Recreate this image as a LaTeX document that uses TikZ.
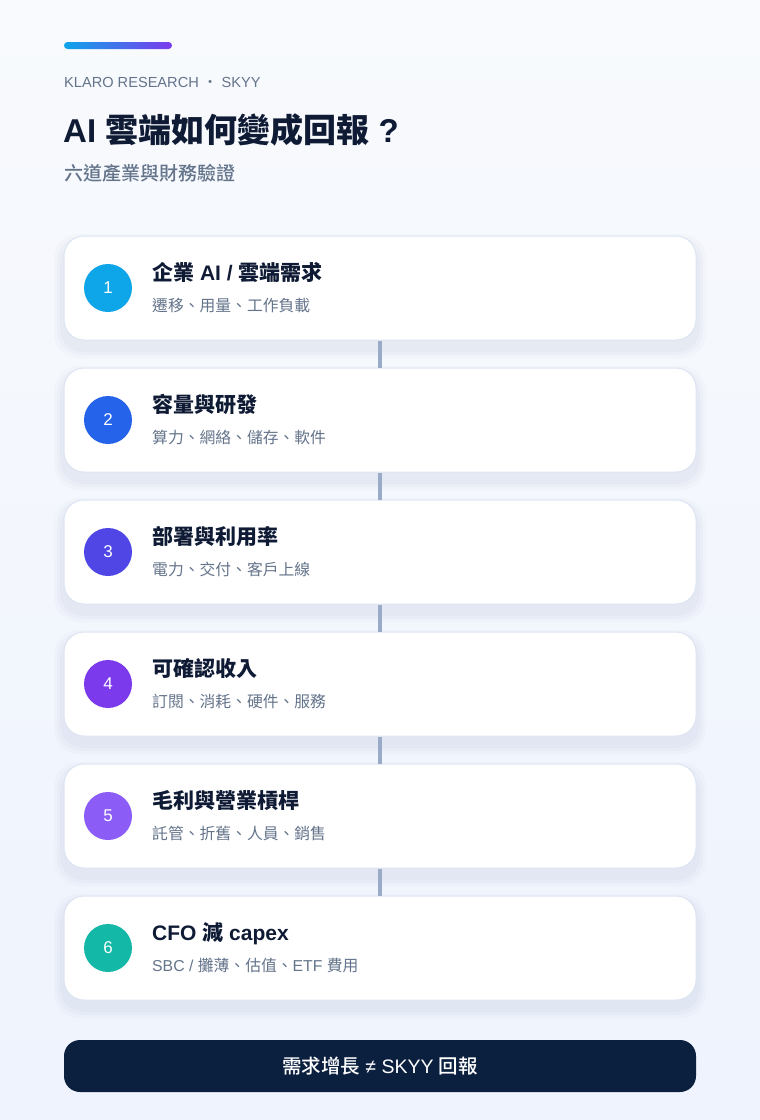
\documentclass[tikz,border=0pt]{standalone}
\usepackage{fontspec}
\setmainfont{Noto Sans CJK TC}
\newfontfamily\medfont{Noto Sans CJK TC Medium}
\newfontfamily\lat{Liberation Sans}
\usetikzlibrary{positioning}
\definecolor{bgA}{HTML}{F8FAFD}
\definecolor{bgB}{HTML}{EEF3FD}
\definecolor{ink}{HTML}{0F1B35}
\definecolor{muted}{HTML}{64748B}
\definecolor{line}{HTML}{9AABC8}
\definecolor{cardedge}{HTML}{DCE4F2}
\definecolor{navy}{HTML}{0B1F3F}
\definecolor{cA}{HTML}{0EA5E9}
\definecolor{cB}{HTML}{2563EB}
\definecolor{cC}{HTML}{4F46E5}
\definecolor{cD}{HTML}{7C3AED}
\definecolor{cE}{HTML}{8B5CF6}
\definecolor{cF}{HTML}{14B8A6}
\definecolor{shadowc}{HTML}{5A6E9E}
\tikzset{
  card/.style={draw=cardedge, line width=1pt, fill=white, rounded corners=20pt, minimum width=632pt, minimum height=104pt, inner sep=0pt},
  badge/.style={circle, minimum size=48pt, inner sep=0pt, text=white, font=\lat\fontsize{17}{20}\selectfont},
  ctitle/.style={anchor=base west, text=ink, inner sep=0pt, font=\fontsize{21}{25}\selectfont\bfseries},
  csub/.style={anchor=base west, text=muted, inner sep=0pt, font=\fontsize{15.8}{19}\selectfont},
  link/.style={line, line width=3.5pt},
}
\begin{document}
\begin{tikzpicture}[x=1pt,y=-1pt]
\useasboundingbox (0,0) rectangle (760,1120);
\shade[top color=bgA, bottom color=bgB] (0,0) rectangle (760,1120);
% top gradient bar
\shade[left color=cA, right color=cD, rounded corners=3.5pt] (64,42) rectangle (172,49);
\node[anchor=base west, inner sep=0pt, text=muted, font=\fontsize{14.6}{17}\selectfont] (brand) at (64,87) {{\lat KLARO RESEARCH }·{\lat\ SKYY}};
\node[anchor=base west, inner sep=0pt, text=ink, font=\fontsize{33}{38}\selectfont\bfseries] (title) at (63,142) {{\lat AI }雲端如何變成回報{\lat\ ?}};
\node[anchor=base west, inner sep=0pt, text=muted, font=\medfont\fontsize{19}{22}\selectfont] (subtitle) at (64,180) {六道產業與財務驗證};
% cards
\foreach \i/\c/\t/\s in {
  1/cA/{企業{\lat\ AI / }雲端需求}/{遷移、用量、工作負載},
  2/cB/{容量與研發}/{算力、網絡、儲存、軟件},
  3/cC/{部署與利用率}/{電力、交付、客戶上線},
  4/cD/{可確認收入}/{訂閱、消耗、硬件、服務},
  5/cE/{毛利與營業槓桿}/{託管、折舊、人員、銷售},
  6/cF/{{\lat CFO }減{\lat\ capex}}/{{\lat SBC / }攤薄、估值、{\lat ETF }費用}}{
  \pgfmathsetmacro{\yc}{288+132*(\i-1)}
  \foreach \k/\o in {10/0.025,7/0.03,4/0.035}{
    \fill[shadowc, opacity=\o, rounded corners=24pt] (64-\k,\yc-52-\k+8) rectangle (696+\k,\yc+52+\k+8);
  }
  \node[card] (card\i) at (380,\yc) {};
  \node[badge, fill=\c] (badge\i) at (108,\yc) {\i};
  \node[ctitle] (title\i) at (152,\yc-8) {\t};
  \node[csub] (sub\i) at (152,\yc+23) {\s};
}
\foreach \a/\b in {1/2,2/3,3/4,4/5,5/6}{
  \draw[link] (card\a.south) -- (card\b.north);
}
\node[fill=navy, rounded corners=16pt, minimum width=632pt, minimum height=52pt, inner sep=0pt, text=white, font=\medfont\fontsize{19.5}{22}\selectfont] (verdict) at (380,1066) {需求增長{\lat\ ≠ SKYY }回報};
\end{tikzpicture}
\end{document}
